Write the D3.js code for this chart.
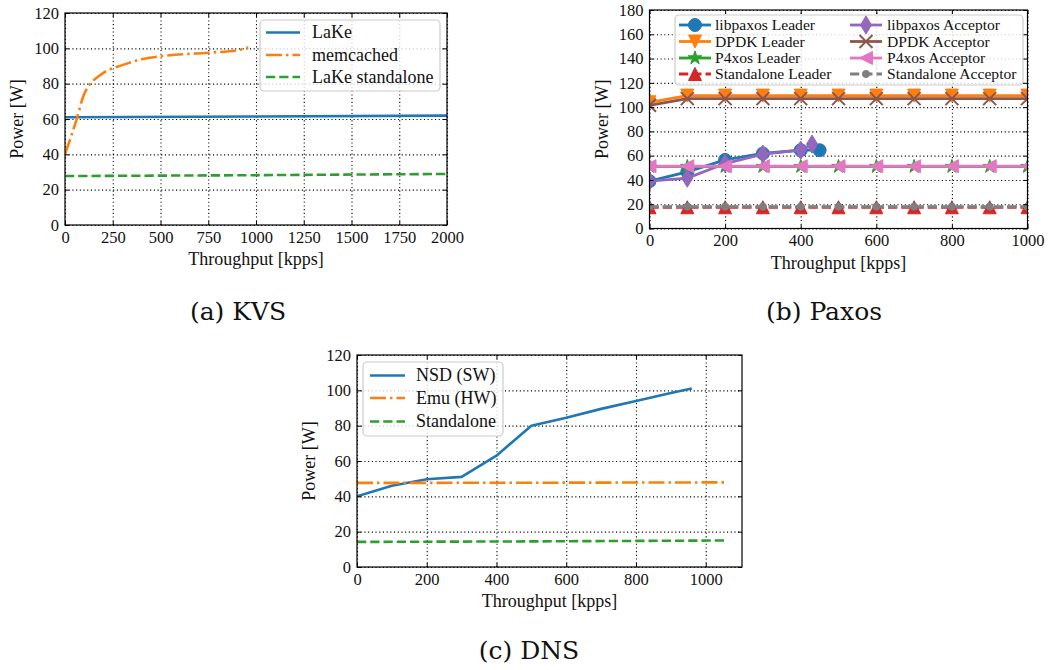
<!DOCTYPE html>
<html><head><meta charset="utf-8">
<script src="https://cdn.jsdelivr.net/npm/d3@7/dist/d3.min.js"></script>
<style>body{margin:0;background:#fff}svg{display:block}</style>
</head><body>
<svg id="c" width="1048" height="670"></svg>
<script>
// ---------- DATA ----------
// (a) KVS
const kvsXTicks = [0, 250, 500, 750, 1000, 1250, 1500, 1750, 2000];
const kvsYTicks = [0, 20, 40, 60, 80, 100, 120];
const lakeX = [0, 1000, 2000];
const lakeY = [61, 61.4, 61.9];
const memcachedX = [0, 60, 100, 200, 300, 400, 500, 750, 900, 960];
const memcachedY = [40, 59.5, 74, 86, 90.5, 93.8, 95.5, 97.5, 98.8, 100.5];
const lakeStandaloneX = [0, 1000, 2000];
const lakeStandaloneY = [27.7, 28.2, 28.9];

// (b) Paxos
const paxosXTicks = [0, 200, 400, 600, 800, 1000];
const paxosYTicks = [0, 20, 40, 60, 80, 100, 120, 140, 160, 180];
const paxosX = [0, 100, 200, 300, 400, 500, 600, 700, 800, 900, 1000];
const libpaxosLeaderX = [0, 100, 200, 300, 400, 450];
const libpaxosLeaderY = [39, 46.7, 56.5, 61.8, 64.5, 64.5];
const libpaxosAcceptorX = [0, 100, 200, 300, 400, 430];
const libpaxosAcceptorY = [39, 41.5, 53.5, 61.3, 64.5, 69.5];
const dpdkLeaderY = [104, 109.5, 109.5, 109.5, 109.5, 109.5, 109.5, 109.5, 109.5, 109.5, 109.5];
const dpdkAcceptorY = [101.5, 107, 107, 107, 107, 107, 107, 107, 107, 107, 107];
const p4xosLeaderY = [51, 51, 51, 51, 51, 51, 51, 51, 51, 51, 51];
const p4xosAcceptorY = [51.3, 51.3, 51.3, 51.3, 51.3, 51.3, 51.3, 51.3, 51.3, 51.3, 51.3];
const standaloneLeaderY = [17.5, 17.5, 17.5, 17.5, 17.5, 17.5, 17.5, 17.5, 17.5, 17.5, 17.5];
const standaloneAcceptorY = [18, 18, 18, 18, 18, 18, 18, 18, 18, 18, 18];

// (c) DNS
const dnsXTicks = [0, 200, 400, 600, 800, 1000];
const dnsYTicks = [0, 20, 40, 60, 80, 100, 120];
const nsdX = [0, 100, 200, 300, 400, 500, 600, 700, 800, 900, 960];
const nsdY = [40, 46, 49.7, 51, 63, 80, 84.5, 89.5, 94, 98.5, 101];
const emuX = [0, 500, 1060];
const emuY = [47.6, 47.7, 47.9];
const dnsStandaloneX = [0, 500, 1060];
const dnsStandaloneY = [14.2, 14.5, 15];

// ---------- STYLE ----------
const FONT = "'Liberation Serif','Times New Roman',serif";
const C = {blue:'#1f77b4', orange:'#ff7f0e', green:'#2ca02c', red:'#d62728',
           purple:'#9467bd', brown:'#8c564b', pink:'#e377c2', gray:'#7f7f7f'};
const DASH = '9.25,4', DASHDOT = '16,4,2.5,4';

const svg = d3.select('#c');
const defs = svg.append('defs');
let clipId = 0;

function markerPath(type, s) {
  const h = s / 2;
  switch (type) {
    case 'o': return d3.symbol(d3.symbolCircle, Math.PI * h * h)();
    case '.': return d3.symbol(d3.symbolCircle, Math.PI * (h * 0.55) * (h * 0.55))();
    case 'v': return `M${-h},${-h}L${h},${-h}L0,${h}Z`;
    case '^': return `M0,${-h}L${-h},${h}L${h},${h}Z`;
    case '<': return `M${-h},0L${h},${-h}L${h},${h}Z`;
    case 'd': return `M0,${-h*1.4}L${h*0.85},0L0,${h*1.4}L${-h*0.85},0Z`;
    case 'x': return `M${-h},${-h}L${h},${h}M${-h},${h}L${h},${-h}`;
    case '*': {
      let p = '';
      for (let i = 0; i < 10; i++) {
        const r = (i % 2 === 0) ? h * 1.1 : h * 1.1 * 0.382;
        const a = -Math.PI / 2 + i * Math.PI / 5;
        p += (i ? 'L' : 'M') + (r * Math.cos(a)).toFixed(2) + ',' + (r * Math.sin(a)).toFixed(2);
      }
      return p + 'Z';
    }
  }
}

function drawMarker(g, type, size, color, cx, cy) {
  const p = g.append('path').attr('d', markerPath(type, size))
    .attr('transform', `translate(${cx},${cy})`);
  if (type === 'x') p.attr('fill', 'none').attr('stroke', color).attr('stroke-width', 2);
  else p.attr('fill', color).attr('stroke', color).attr('stroke-width', 1);
}

function panel(cfg) {
  const g = svg.append('g');
  const x = d3.scaleLinear().domain(cfg.xDomain).range([cfg.left, cfg.right]);
  const y = d3.scaleLinear().domain(cfg.yDomain).range([cfg.bottom, cfg.top]);
  const pw = cfg.right - cfg.left, ph = cfg.bottom - cfg.top;

  // grid
  const gx = g.append('g').attr('transform', `translate(0,${cfg.bottom})`)
    .call(d3.axisBottom(x).tickValues(cfg.xTicks).tickSize(-ph).tickFormat(''));
  const gy = g.append('g').attr('transform', `translate(${cfg.left},0)`)
    .call(d3.axisLeft(y).tickValues(cfg.yTicks).tickSize(-pw).tickFormat(''));
  [gx, gy].forEach(a => {
    a.select('.domain').remove();
    a.selectAll('line').attr('stroke', '#000').attr('stroke-width', 1.1)
      .attr('stroke-dasharray', '1.1,2.6');
  });

  // clip
  const id = 'clip' + (clipId++);
  defs.append('clipPath').attr('id', id).append('rect')
    .attr('x', cfg.left).attr('y', cfg.top).attr('width', pw).attr('height', ph);
  const plot = g.append('g').attr('clip-path', `url(#${id})`);

  cfg.series.forEach(s => {
    const pts = d3.zip(s.xs, s.ys);
    plot.append('path').datum(pts)
      .attr('d', d3.line().curve(s.curve || d3.curveLinear).x(d => x(d[0])).y(d => y(d[1])))
      .attr('fill', 'none').attr('stroke', s.color).attr('stroke-width', s.width)
      .attr('stroke-dasharray', s.dash || null).attr('stroke-linejoin', 'round');
    if (s.marker) pts.forEach(d => drawMarker(plot, s.marker, s.msize, s.color, x(d[0]), y(d[1])));
  });

  // axes with inward ticks
  const ax = [
    g.append('g').attr('transform', `translate(0,${cfg.bottom})`)
      .call(d3.axisBottom(x).tickValues(cfg.xTicks).tickSize(-4).tickPadding(6).tickFormat(d3.format('d'))),
    g.append('g').attr('transform', `translate(${cfg.left},0)`)
      .call(d3.axisLeft(y).tickValues(cfg.yTicks).tickSize(-4).tickPadding(6).tickFormat(d3.format('d'))),
    g.append('g').attr('transform', `translate(0,${cfg.top})`)
      .call(d3.axisTop(x).tickValues(cfg.xTicks).tickSize(-4).tickFormat('')),
    g.append('g').attr('transform', `translate(${cfg.right},0)`)
      .call(d3.axisRight(y).tickValues(cfg.yTicks).tickSize(-4).tickFormat(''))
  ];
  ax.forEach(a => {
    a.select('.domain').remove();
    a.selectAll('line').attr('stroke', '#000').attr('stroke-width', 1);
    a.selectAll('text').attr('font-family', FONT).attr('font-size', 16.5).attr('fill', '#111');
  });
  g.append('rect').attr('x', cfg.left).attr('y', cfg.top).attr('width', pw).attr('height', ph)
    .attr('fill', 'none').attr('stroke', '#000').attr('stroke-width', 1.2);

  // labels
  g.append('text').attr('x', (cfg.left + cfg.right) / 2).attr('y', cfg.bottom + 40)
    .attr('text-anchor', 'middle').attr('font-family', FONT).attr('font-size', 18).attr('fill', '#111')
    .text('Throughput [kpps]');
  g.append('text').attr('transform', `translate(${cfg.left - 42},${(cfg.top + cfg.bottom) / 2}) rotate(-90)`)
    .attr('text-anchor', 'middle').attr('font-family', FONT).attr('font-size', 18).attr('fill', '#111')
    .text('Power [W]');

  // legend
  const L = cfg.legend;
  const lg = g.append('g');
  lg.append('rect').attr('x', L.x).attr('y', L.y).attr('width', L.w).attr('height', L.h)
    .attr('rx', 4).attr('fill', 'rgba(255,255,255,0.8)').attr('stroke', '#cccccc').attr('stroke-width', 1.2);
  cfg.series.forEach((s, i) => {
    const col = L.cols ? Math.floor(i / L.rows) : 0;
    const row = L.cols ? i % L.rows : i;
    const lx = L.lineX[col], ly = L.rowY[row];
    lg.append('line').attr('x1', lx).attr('x2', lx + L.lineLen).attr('y1', ly).attr('y2', ly)
      .attr('stroke', s.color).attr('stroke-width', s.width).attr('stroke-dasharray', s.dash || null);
    if (s.marker) drawMarker(lg, s.marker, s.msize, s.color, lx + L.lineLen / 2, ly);
    lg.append('text').attr('x', L.textX[col]).attr('y', ly).attr('dy', '0.33em')
      .attr('font-family', FONT).attr('font-size', L.font).attr('fill', '#111').text(s.name);
  });
}

// (a) KVS
panel({
  left: 65, right: 447, top: 13, bottom: 225,
  xDomain: [0, 2000], yDomain: [0, 120], xTicks: kvsXTicks, yTicks: kvsYTicks,
  series: [
    {name: 'LaKe', xs: lakeX, ys: lakeY, color: C.blue, width: 2.6},
    {name: 'memcached', xs: memcachedX, ys: memcachedY, color: C.orange, width: 2.6, dash: DASHDOT, curve: d3.curveMonotoneX},
    {name: 'LaKe standalone', xs: lakeStandaloneX, ys: lakeStandaloneY, color: C.green, width: 2.6, dash: DASH}
  ],
  legend: {x: 260, y: 20, w: 180, h: 71, lineX: [266], lineLen: 34, textX: [312],
           rowY: [32.5, 55, 77], font: 18}
});

// (b) Paxos
const MS = 13;
panel({
  left: 649.5, right: 1027.5, top: 10, bottom: 228.5,
  xDomain: [0, 1000], yDomain: [0, 180], xTicks: paxosXTicks, yTicks: paxosYTicks,
  series: [
    {name: 'libpaxos Leader', xs: libpaxosLeaderX, ys: libpaxosLeaderY, color: C.blue, width: 2.8, marker: 'o', msize: MS},
    {name: 'DPDK Leader', xs: paxosX, ys: dpdkLeaderY, color: C.orange, width: 2.8, marker: 'v', msize: MS},
    {name: 'P4xos Leader', xs: paxosX, ys: p4xosLeaderY, color: C.green, width: 2.8, marker: '*', msize: MS},
    {name: 'Standalone Leader', xs: paxosX, ys: standaloneLeaderY, color: C.red, width: 2.8, marker: '^', msize: MS, dash: DASH},
    {name: 'libpaxos Acceptor', xs: libpaxosAcceptorX, ys: libpaxosAcceptorY, color: C.purple, width: 2.8, marker: 'd', msize: MS},
    {name: 'DPDK Acceptor', xs: paxosX, ys: dpdkAcceptorY, color: C.brown, width: 2.8, marker: 'x', msize: MS},
    {name: 'P4xos Acceptor', xs: paxosX, ys: p4xosAcceptorY, color: C.pink, width: 2.8, marker: '<', msize: MS},
    {name: 'Standalone Acceptor', xs: paxosX, ys: standaloneAcceptorY, color: C.gray, width: 2.8, marker: '.', msize: MS, dash: DASH}
  ],
  legend: {x: 675, y: 15, w: 348, h: 70, cols: 2, rows: 4, lineX: [679, 850], lineLen: 32,
           textX: [715, 887], rowY: [25, 41.5, 58, 74], font: 15.6}
});

// (c) DNS
panel({
  left: 357, right: 742, top: 355, bottom: 567,
  xDomain: [0, 1104], yDomain: [0, 120], xTicks: dnsXTicks, yTicks: dnsYTicks,
  series: [
    {name: 'NSD (SW)', xs: nsdX, ys: nsdY, color: C.blue, width: 2.6},
    {name: 'Emu (HW)', xs: emuX, ys: emuY, color: C.orange, width: 2.6, dash: DASHDOT},
    {name: 'Standalone', xs: dnsStandaloneX, ys: dnsStandaloneY, color: C.green, width: 2.6, dash: DASH}
  ],
  legend: {x: 363, y: 362, w: 140, h: 74, lineX: [370], lineLen: 35, textX: [416],
           rowY: [375.5, 398, 421.5], font: 18}
});

// sub-captions
const CAP = "'DejaVu Serif',serif";
[['(a) KVS', 238, 320], ['(b) Paxos', 824, 320], ['(c) DNS', 529, 659]].forEach(c => {
  svg.append('text').attr('x', c[1]).attr('y', c[2]).attr('text-anchor', 'middle')
    .attr('font-family', CAP).attr('font-size', 25).attr('fill', '#111').text(c[0]);
});
</script>
</body></html>
